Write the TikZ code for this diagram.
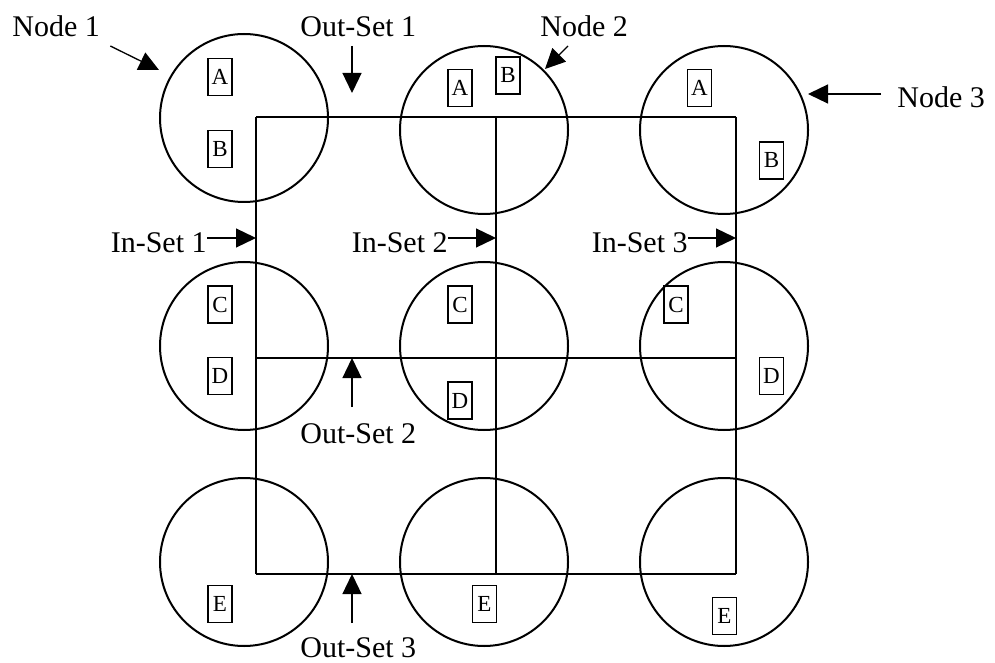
\documentclass[tikz,border=0pt]{standalone}
\usepackage{fontspec}
\setmainfont{Liberation Serif}
\usetikzlibrary{arrows.meta}

\begin{document}
\begin{tikzpicture}[
      x=0.5pt, y=-0.5pt,
      lbl/.style={font=\fontsize{15}{18}\selectfont, inner sep=0pt},
      site/.style={draw, circle, line width=1pt, minimum size=84pt, inner sep=0pt},
      res/.style={draw, line width=0.7pt, minimum width=12pt, minimum height=18.5pt,
                  inner sep=0pt, font=\fontsize{11.5}{13}\selectfont},
      arr/.style={-{Triangle[length=10pt,width=9.5pt]}, line width=0.65pt}
    ]
    \useasboundingbox (0,0) rectangle (995,663);

    % Griglia dei set
    \foreach \x in {256,496,736} \draw[line width=0.65pt] (\x,117) -- (\x,574);
    \foreach \y in {117,358,574} \draw[line width=0.65pt] (256,\y) -- (736,\y);

    % Nodi
    \node[site] (c11) at (244,118) {};
    \node[site] (c12) at (484,130) {};
    \node[site] (c13) at (724,130) {};
    \node[site] (c21) at (244,346) {};
    \node[site] (c22) at (484,346) {};
    \node[site] (c23) at (724,346) {};
    \node[site] (c31) at (244,562) {};
    \node[site] (c32) at (484,562) {};
    \node[site] (c33) at (724,562) {};

    % Risorse nei nodi
    \node[res] (a1) at (220,77) {A};
    \node[res] (b1) at (220,149) {B};
    \node[res] (a2) at (460,88) {A};
    \node[res] (b2) at (508,75.5) {B};
    \node[res] (a3) at (699.5,88) {A};
    \node[res] (b3) at (771.5,160.5) {B};
    \node[res] (cc1) at (220,304.5) {C};
    \node[res] (d1) at (220,376) {D};
    \node[res] (cc2) at (460,304.5) {C};
    \node[res] (d2) at (460,400.5) {D};
    \node[res] (cc3) at (676,304.5) {C};
    \node[res] (d3) at (771.5,376) {D};
    \node[res] (e1) at (220,604) {E};
    \node[res] (e2) at (484.5,604) {E};
    \node[res] (e3) at (724.5,616) {E};

    % Etichette
    \node[lbl, anchor=base west] (n1) at (12,37) {Node 1};
    \node[lbl, anchor=base west] (n2) at (540,37) {Node 2};
    \node[lbl, anchor=base west] (n3) at (897,108) {Node 3};
    \node[lbl, anchor=base west] (os1) at (300,37) {Out-Set 1};
    \node[lbl, anchor=base west] (os2) at (300,443) {Out-Set 2};
    \node[lbl, anchor=base west] (os3) at (300,657) {Out-Set 3};
    \node[lbl, anchor=base east] (is1) at (207,253) {In-Set 1};
    \node[lbl, anchor=base east] (is2) at (448,253) {In-Set 2};
    \node[lbl, anchor=base east] (is3) at (688,253) {In-Set 3};

    % Punte delle frecce
    \coordinate (n1t) at (159,70);
    \coordinate (n2t) at (545,69);
    \coordinate (n3t) at (808,94);
    \coordinate (os1t) at (352,93);
    \coordinate (os2t) at (352,358);
    \coordinate (os3t) at (352,574);
    \coordinate (is1t) at (256,238);
    \coordinate (is2t) at (496,238);
    \coordinate (is3t) at (736,238);

    % Frecce
    \draw[arr] (n1.east |- 0,46) ++(10,0) -- (n1t);
    \draw[arr] (568,46) -- (n2t);
    \draw[arr] (881,94) -- (n3t);
    \draw[arr] (352,46) -- (os1t);
    \draw[arr] (352,407) -- (os2t);
    \draw[arr] (352,623) -- (os3t);
    \draw[arr] (is1.east |- is1t) -- (is1t);
    \draw[arr] (is2.east |- is2t) -- (is2t);
    \draw[arr] (is3.east |- is3t) -- (is3t);
\end{tikzpicture}
\end{document}
